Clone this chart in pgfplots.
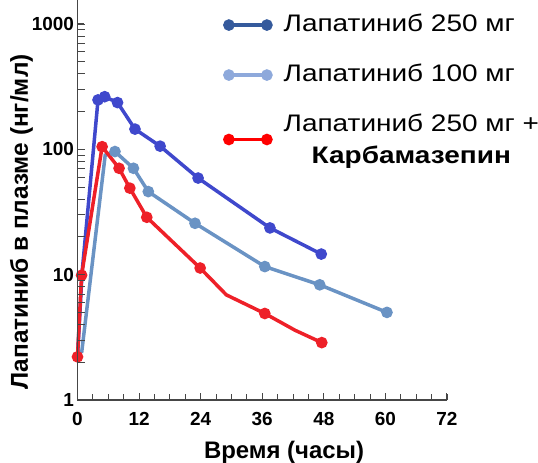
\documentclass[border=0pt]{standalone}
\usepackage{pgfplots}
\pgfplotsset{compat=1.18}
\usepackage{fontspec}
\setmainfont{Liberation Sans}
\newfontfamily\legfont[FakeStretch=1.17]{Liberation Sans}
\definecolor{cBlue}{RGB}{63,72,204}
\definecolor{cSteel}{RGB}{106,147,196}
\definecolor{cRed}{RGB}{238,32,40}
\definecolor{lgBlue}{RGB}{53,90,156}
\definecolor{lgSteel}{RGB}{142,169,219}
\definecolor{lgRed}{RGB}{255,0,0}
\definecolor{axisgray}{RGB}{70,70,70}
\begin{document}
\begin{tikzpicture}
\begin{axis}[
  scale only axis, width=369.5bp, height=376bp,
  xmin=0, xmax=72, ymin=1, ymax=1000, ymode=log,
  axis line style={draw=none},
  xtick={0,12,24,36,48,60,72}, xticklabels={0,12,24,36,48,60,72},
  minor xtick={3,6,9,15,18,21,27,30,33,39,42,45,51,54,57,63,66,69},
  ytick={1,10,100,1000}, yticklabels={1,10,100,1000},
  xtick pos=bottom, ytick pos=left,
  tick align=inside,
  major tick length=7bp, minor tick length=6bp,
  tick style={draw=axisgray, line width=1bp},
  xticklabel style={font=\fontsize{19}{22}\selectfont\bfseries, yshift=-9bp},
  yticklabel style={font=\fontsize{19}{22}\selectfont\bfseries},
  xlabel={Время (часы)},
  xlabel style={font=\fontsize{24}{28}\selectfont\bfseries, at={(rel axis cs:0.559,-0.1543)}, anchor=base},
  ylabel={Лапатиниб в плазме (нг/мл)},
  ylabel style={font=\fontsize{24.5}{28}\selectfont\bfseries, at={(rel axis cs:-0.152,0.473)}, anchor=center},
  clip=false,
  legend style={draw=none, fill=none, at={(rel axis cs:0.3984,1.027)}, anchor=north west,
    inner sep=0pt, row sep=28bp, font=\legfont\fontsize{24}{29}\selectfont,
    nodes={inner sep=0pt}},
  legend image code/.code={\draw[#1] plot coordinates {(0bp,0bp) (38bp,0bp)}; \path (53bp,0bp);},
  legend cell align=left,
]
% Lapatinib 250 mg
\addplot[cBlue, line width=3.5bp, mark=*, mark size=4bp, mark indices={3,4,5,6,7,8,9,10}, forget plot]
  coordinates {(0,2.2) (0.9,10.5) (4.0,248) (5.3,263) (7.8,236) (11.2,145) (16.1,106) (23.5,59) (37.5,23.6) (47.5,14.6)};
% Lapatinib 100 mg
\addplot[cSteel, line width=3.5bp, mark=*, mark size=4bp, mark indices={3,4,5,6,7,8,9}, forget plot]
  coordinates {(0.8,2.37) (5.4,90) (7.3,96) (10.9,70.6) (13.8,46) (22.9,25.7) (36.5,11.6) (47.2,8.3) (60.3,5.0)};
% Lapatinib 250 mg + carbamazepine
\addplot[cRed, line width=3.5bp, mark=*, mark size=4bp, mark indices={1,2,3,4,5,6,7,9,11}, forget plot]
  coordinates {(0,2.21) (0.8,9.9) (4.8,105) (8.1,70.6) (10.2,49) (13.5,28.7) (23.9,11.3) (29,6.9) (36.5,4.9) (42.4,3.6) (47.6,2.87)};

\addlegendimage{lgBlue, line width=3.5bp, mark=*, mark size=4bp}
\addlegendentry[text height=17bp, text depth=5bp]{Лапатиниб 250 мг}
\addlegendimage{lgSteel, line width=3.5bp, mark=*, mark size=4bp}
\addlegendentry[text height=17bp, text depth=5bp]{Лапатиниб 100 мг}
\addlegendimage{lgRed, line width=3.5bp, mark=*, mark size=4bp}
\addlegendentry[align=center]{Лапатиниб 250 мг +\\[3bp]\textbf{Карбамазепин}}
\end{axis}
% axis spines and tick marks (0..72 h every 3 h; log decades 1..1000)
\draw[axisgray, line width=1.2bp] (0bp,400bp) -- (0bp,0bp) -- (369.5bp,0bp);
\foreach \x in {0,3,...,72}
  \draw[axisgray, line width=1bp] ({\x*5.13194bp},0bp) -- ++(0bp,6bp);
\foreach \v in {1,2,...,10,20,30,...,100,200,300,...,1000}
  \draw[axisgray, line width=1bp] (0bp,{log10(\v)*125.333bp}) -- ++(7bp,0bp);
\pgfresetboundingbox
\path[use as bounding box] (-77.5bp,-63bp) rectangle (460.5bp,400bp);
\end{tikzpicture}
\end{document}
